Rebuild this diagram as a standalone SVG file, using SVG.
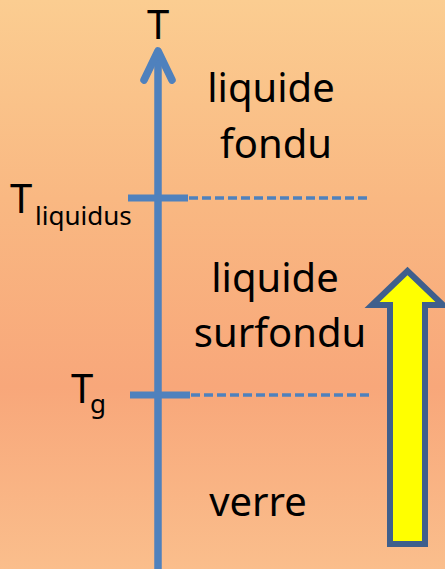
<svg xmlns="http://www.w3.org/2000/svg" width="445" height="569" viewBox="0 0 445 569">
  <defs>
    <linearGradient id="bg" x1="0" y1="0" x2="0" y2="1">
      <stop offset="0" stop-color="#FBCD91"/>
      <stop offset="0.35" stop-color="#F9B882"/>
      <stop offset="0.68" stop-color="#F8A77A"/>
      <stop offset="1" stop-color="#FABE8C"/>
    </linearGradient>
    <style>
      .lbl { font-family: "Noto Sans", "Open Sans", sans-serif; fill: #000; }
      .big { font-size: 40px; text-anchor: middle; }
      .axis { stroke: #4F81BD; fill: none; }
      .dash { stroke: #4F81BD; stroke-width: 3.5; stroke-dasharray: 9 4; fill: none; }
    </style>
  </defs>
  <rect x="0" y="0" width="445" height="569" fill="url(#bg)"/>

  <g id="connectors">
    <line class="axis" x1="158" y1="569" x2="158" y2="52" stroke-width="7.5"/>
    <polyline class="axis" points="144,80 158,51 172,80" stroke-width="7.5" stroke-linecap="round" stroke-linejoin="round"/>
    <line class="axis" x1="128" y1="198" x2="188" y2="198" stroke-width="7"/>
    <line class="dash" x1="189" y1="198" x2="370" y2="198"/>
    <line class="axis" x1="130" y1="395" x2="190" y2="395" stroke-width="7"/>
    <line class="dash" x1="191" y1="395" x2="372" y2="395"/>
  </g>

  <g id="axis-label">
    <text class="lbl" x="158" y="39" font-size="40" text-anchor="middle">T</text>
  </g>
  <g id="t-liquidus">
    <text class="lbl" x="10" y="213" font-size="40">T<tspan x="35" font-size="26" dy="12">liquidus</tspan></text>
  </g>
  <g id="t-g">
    <text class="lbl" x="71" y="403" font-size="40">T<tspan x="90" font-size="26" dy="10">g</tspan></text>
  </g>

  <g id="liquide-fondu">
    <text class="lbl big" x="271" y="102">liquide</text>
    <text class="lbl big" x="276" y="158">fondu</text>
  </g>
  <g id="liquide-surfondu">
    <text class="lbl big" x="275" y="292">liquide</text>
    <text class="lbl big" x="280" y="347">surfondu</text>
  </g>
  <g id="verre">
    <text class="lbl big" x="258" y="516">verre</text>
  </g>

  <g id="cooling-arrow">
    <path d="M407.5,271 L443,305 L425,305 L425,544 L390,544 L390,305 L372,305 Z" fill="#FFFF00" stroke="#3F5F8C" stroke-width="6" stroke-linejoin="miter"/>
  </g>
</svg>
